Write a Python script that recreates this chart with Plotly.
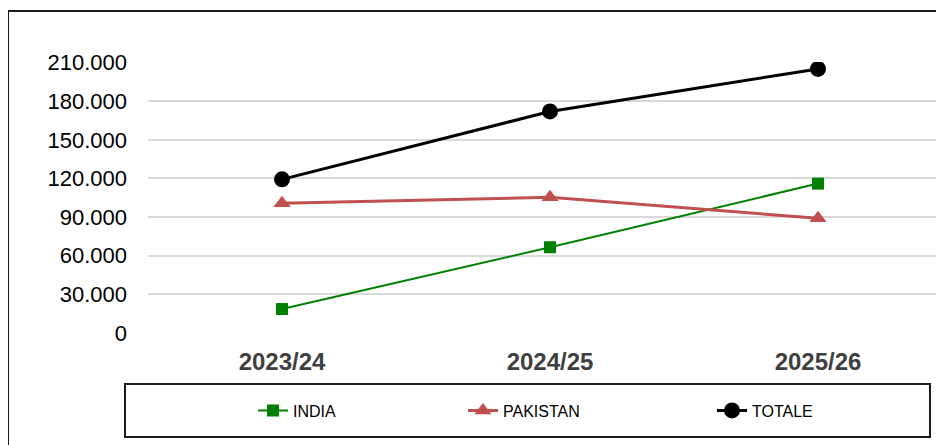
import plotly.graph_objects as go

categories = ["2023/24", "2024/25", "2025/26"]
india = [18600, 66600, 116000]
pakistan = [100700, 105400, 89000]
totale = [119300, 172000, 205000]
y_ticks = [0, 30000, 60000, 90000, 120000, 150000, 180000, 210000]

FONT = "Liberation Sans, Arial, sans-serif"

fig = go.Figure()
fig.add_trace(go.Scatter(x=categories, y=india, name="INDIA", mode="lines+markers",
                         line=dict(color="#008000", width=2),
                         marker=dict(symbol="square", size=12, color="#008000"),
                         legend="legend"))
fig.add_trace(go.Scatter(x=categories, y=pakistan, name="PAKISTAN", mode="lines+markers",
                         line=dict(color="#C0504D", width=3),
                         marker=dict(symbol="triangle-up", size=15, color="#C0504D"),
                         legend="legend2"))
fig.add_trace(go.Scatter(x=categories, y=totale, name="TOTALE", mode="lines+markers",
                         line=dict(color="#000000", width=3),
                         marker=dict(symbol="circle", size=16, color="#000000"),
                         legend="legend3"))

# page has an 8px body margin; work in screen pixels and convert
OFF = 8
W, H = 944 - OFF, 445 - OFF
PX0, PW = 148 - OFF, 796
PT, PB = 62 - OFF, 333 - OFF
PH = PB - PT

def px(x):
    return (x - OFF - PX0) / PW

def py(y):
    return (PB - (y - OFF)) / PH

leg_common = dict(orientation="h", yanchor="middle", xanchor="left", y=py(410.5),
                  font=dict(family=FONT, size=16, color="#000000"),
                  bgcolor="rgba(0,0,0,0)", borderwidth=0)

fig.update_layout(
    width=W, height=H,
    margin=dict(l=PX0, r=W - PX0 - PW, t=PT, b=H - PB),
    paper_bgcolor="white", plot_bgcolor="white",
    separators=",.",
    showlegend=True,
    legend=dict(x=px(253), **leg_common),
    legend2=dict(x=px(463), **leg_common),
    legend3=dict(x=px(712), **leg_common),
    xaxis=dict(type="category", range=[-0.5, -0.5 + PW / 268.0],
               showgrid=False, showline=False, zeroline=False, ticks="",
               tickfont=dict(family=FONT, size=24, color="#404040", weight="bold"),
               ticklabelstandoff=12),
    yaxis=dict(range=[0, 210400], tickvals=y_ticks, tickformat=",d",
               showgrid=True, gridcolor="#D9D9D9", gridwidth=1.5,
               zeroline=False, showline=False, ticks="",
               tickfont=dict(family=FONT, size=22, color="#000000"),
               ticklabelstandoff=20),
    shapes=[
        dict(type="rect", xref="paper", yref="paper",
             x0=px(8), x1=1.1, y0=-0.6, y1=py(11),
             line=dict(color="#1A1A1A", width=2), fillcolor="rgba(0,0,0,0)", layer="below"),
        dict(type="rect", xref="paper", yref="paper",
             x0=px(125), x1=px(930), y0=py(437), y1=py(384),
             line=dict(color="#1A1A1A", width=2), fillcolor="rgba(0,0,0,0)", layer="below"),
    ],
)

fig.write_html("out.html")
